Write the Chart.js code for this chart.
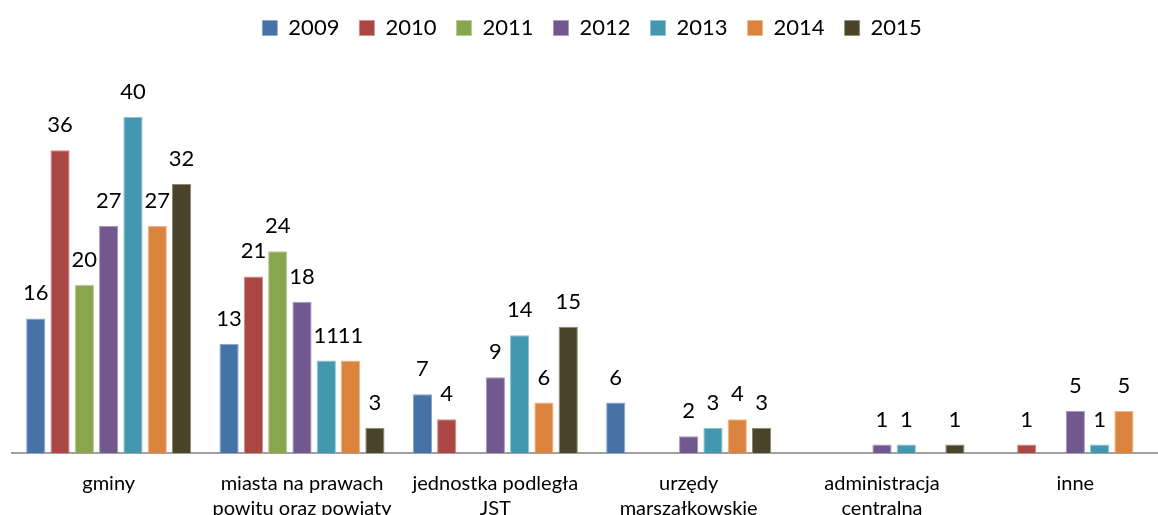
<!DOCTYPE html>
<html>
<head>
<meta charset="utf-8">
<script src="https://cdn.jsdelivr.net/npm/chart.js@4/dist/chart.umd.min.js"></script>
<style>
  html, body { margin: 0; padding: 0; background: #fff; overflow: hidden; }
  #wrap { position: relative; width: 1180px; height: 540px; }
</style>
</head>
<body>
<div id="wrap"><canvas id="c"></canvas></div>
<script>
// Categories (multi-line axis labels)
const categories = [
  ['gminy'],
  ['miasta na prawach', 'powitu oraz powiaty'],
  ['jednostka podległa', 'JST'],
  ['urzędy', 'marszałkowskie'],
  ['administracja', 'centralna'],
  ['inne']
];

// One value list per year, in category order (null = no bar)
const years = ['2009', '2010', '2011', '2012', '2013', '2014', '2015'];
const v2009 = [16, 13, 7, 6, null, null];
const v2010 = [36, 21, 4, null, null, 1];
const v2011 = [20, 24, null, null, null, null];
const v2012 = [27, 18, 9, 2, 1, 5];
const v2013 = [40, 11, 14, 3, 1, 1];
const v2014 = [27, 11, 6, 4, null, 5];
const v2015 = [32, 3, 15, 3, 1, null];

const seriesValues = [v2009, v2010, v2011, v2012, v2013, v2014, v2015];
const seriesColors = ['#4572A7', '#AA4643', '#89A54E', '#71588F', '#4198AF', '#DB843D', '#4A452A'];
const seriesEdges  = ['#8AA6CA', '#CC8C8A', '#B7CA96', '#A595B8', '#8DC2D0', '#EDB78C', '#8F8A72'];

const FONT = 'Lato, Carlito, "Open Sans", sans-serif';

// Value labels drawn above each bar
const valueLabels = {
  id: 'valueLabels',
  afterDatasetsDraw(chart) {
    const ctx = chart.ctx;
    ctx.save();
    ctx.font = '22px ' + FONT;
    ctx.fillStyle = '#000';
    ctx.textAlign = 'center';
    ctx.textBaseline = 'alphabetic';
    chart.data.datasets.forEach((ds, i) => {
      const meta = chart.getDatasetMeta(i);
      meta.data.forEach((bar, j) => {
        const v = ds.data[j];
        if (v === null || v === undefined) return;
        ctx.fillText(String(v), bar.x, bar.y - 18);
      });
    });
    ctx.restore();
  }
};

// Reserve a fixed band for the legend above the plot
const legendBand = {
  id: 'legendBand',
  beforeLayout(chart) {
    const lg = chart.legend;
    if (lg && !lg._bandPatched) {
      const fit = lg.fit;
      lg.fit = function () {
        fit.call(this);
        this.height = 86;
      };
      lg._bandPatched = true;
    }
  }
};

new Chart(document.getElementById('c'), {
  type: 'bar',
  data: {
    labels: categories,
    datasets: years.map((y, i) => ({
      label: y,
      data: seriesValues[i],
      backgroundColor: seriesColors[i],
      borderColor: seriesEdges[i],
      borderWidth: { top: 1, left: 1, right: 1, bottom: 0 },
      borderSkipped: 'bottom',
      categoryPercentage: 0.88,
      barPercentage: 0.79
    }))
  },
  options: {
    responsive: true,
    maintainAspectRatio: false,
    animation: false,
    layout: { padding: { top: -3, left: 12, right: 8, bottom: 0 } },
    plugins: {
      legend: {
        position: 'top',
        align: 'center',
        labels: {
          boxWidth: 15,
          boxHeight: 15,
          padding: 20,
          color: '#000',
          font: { family: FONT, size: 22 }
        }
      },
      tooltip: { enabled: false }
    },
    scales: {
      x: {
        grid: { display: false, drawTicks: false, tickLength: 0 },
        border: { display: true, color: '#A0A0A0', width: 2 },
        ticks: {
          color: '#000',
          padding: 18,
          maxRotation: 0,
          autoSkip: false,
          font: { family: FONT, size: 20, lineHeight: 1.25 }
        },
        afterFit(scale) { scale.height = 87; }
      },
      y: {
        display: false,
        min: 0,
        max: 44
      }
    }
  },
  plugins: [valueLabels, legendBand]
});
</script>
</body>
</html>
